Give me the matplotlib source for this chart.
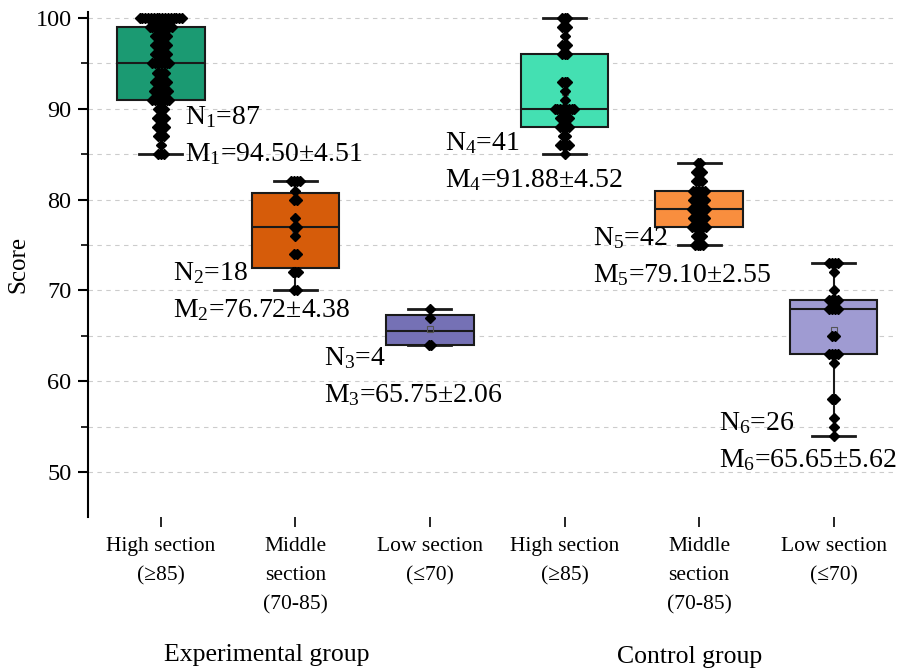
import numpy as np
import matplotlib.pyplot as plt
from matplotlib.ticker import MultipleLocator

plt.rcParams['font.family'] = ['Liberation Serif', 'DejaVu Serif']
plt.rcParams['mathtext.fontset'] = 'custom'
plt.rcParams['mathtext.rm'] = 'Liberation Serif'
plt.rcParams['mathtext.it'] = 'Liberation Serif:italic'

# scores (value, how many students) for each section
exp_high_scores = [100, 99, 98, 97, 96, 95, 94, 93, 92, 91, 90, 89, 88, 87, 86, 85]
exp_high_counts = [16, 9, 5, 5, 5, 7, 4, 5, 6, 7, 3, 4, 4, 3, 1, 3]
exp_mid_scores = [82, 81, 80, 78, 77, 76, 74, 72, 70]
exp_mid_counts = [4, 1, 2, 1, 2, 1, 2, 3, 2]
exp_low_scores = [68, 67, 64]
exp_low_counts = [1, 1, 2]
ctl_high_scores = [100, 99, 98, 97, 96, 93, 92, 91, 90, 89, 88, 87, 86, 85]
ctl_high_counts = [3, 3, 1, 3, 3, 3, 1, 1, 8, 4, 4, 2, 4, 1]
ctl_mid_scores = [84, 83, 82, 81, 80, 79, 78, 77, 76, 75]
ctl_mid_counts = [2, 3, 3, 5, 5, 6, 5, 6, 3, 4]
ctl_low_scores = [73, 72, 70, 69, 68, 65, 63, 62, 58, 56, 55, 54]
ctl_low_counts = [4, 1, 1, 4, 4, 2, 4, 1, 2, 1, 1, 1]

section_labels = ['High section\n(\u226585)', 'Middle\nsection\n(70-85)', 'Low section\n(\u226470)',
                  'High section\n(\u226585)', 'Middle\nsection\n(70-85)', 'Low section\n(\u226470)']
group_labels = ['Experimental group', 'Control group']

n_values = [87, 18, 4, 41, 42, 26]
mean_values = [94.50, 76.72, 65.75, 91.88, 79.10, 65.65]
sd_values = [4.51, 4.38, 2.06, 4.52, 2.55, 5.62]

box_colors = ['#1b9a72', '#d65c0a', '#7571b5', '#44e0b2', '#f98e3e', '#9f9bd2']

data = [np.repeat(s, c) for s, c in [(exp_high_scores, exp_high_counts),
                                     (exp_mid_scores, exp_mid_counts),
                                     (exp_low_scores, exp_low_counts),
                                     (ctl_high_scores, ctl_high_counts),
                                     (ctl_mid_scores, ctl_mid_counts),
                                     (ctl_low_scores, ctl_low_counts)]]
pos = np.arange(1, 7)


def swarm_offsets(vals, step):
    # spread equal scores sideways so the points don't sit on top of each other
    offs = np.zeros(len(vals))
    for v in np.unique(vals):
        idx = np.where(vals == v)[0]
        k = np.arange(len(idx))
        o = step * np.where(k % 2 == 0, k // 2, -(k // 2 + 1))
        offs[idx] = o - o.mean()
    return offs


fig = plt.figure(figsize=(9, 6.69), dpi=100)
ax = fig.add_axes([0.098, 0.227, 0.897, 0.755])

bp = ax.boxplot(data, positions=pos, widths=0.65, whis=(0, 100), patch_artist=True,
                showfliers=False, capwidths=0.32,
                boxprops=dict(edgecolor='#1a1a1a', linewidth=1.5),
                medianprops=dict(color='#1a1a1a', linewidth=1.5),
                whiskerprops=dict(color='#1a1a1a', linewidth=1.5),
                capprops=dict(color='#1a1a1a', linewidth=2),
                zorder=2)
for patch, c in zip(bp['boxes'], box_colors):
    patch.set_facecolor(c)

for p, vals in zip(pos, data):
    ax.plot(p + swarm_offsets(vals, 0.021), vals, 'D', color='black', ms=5.5, zorder=4)

# mean markers
ax.plot(pos, mean_values, 's', ms=5, mfc='none', mec='#555555', mew=0.8, zorder=3)

# N / M annotations
ann_x = [1.18, 1.09, 2.21, 3.11, 4.21, 5.15]
ann_y = [89.1, 71.9, 62.6, 86.2, 75.8, 55.4]
for i in range(6):
    ax.text(ann_x[i], ann_y[i], 'N$_{%d}$=%d' % (i + 1, n_values[i]),
            fontsize=20, va='center', ha='left', zorder=5)
    ax.text(ann_x[i], ann_y[i] - 4.1, 'M$_{%d}$=%.2f\u00b1%.2f' % (i + 1, mean_values[i], sd_values[i]),
            fontsize=20, va='center', ha='left', zorder=5)

ax.set_xlim(0.46, 6.46)
ax.set_ylim(45.04, 100.66)
ax.yaxis.set_major_locator(MultipleLocator(10))
ax.yaxis.set_minor_locator(MultipleLocator(5))
ax.set_yticks(np.arange(50, 101, 10))
ax.grid(axis='y', which='both', linestyle=(0, (4, 4)), color='#cccccc', linewidth=0.8)
ax.set_axisbelow(True)

ax.set_xticks(pos)
ax.set_xticklabels(section_labels, fontsize=15.5)
for lab in ax.get_xticklabels():
    lab.set_linespacing(1.74)
ax.tick_params(axis='x', length=7, width=1.2, pad=7)
ax.tick_params(axis='y', which='major', length=7, width=1.5, labelsize=17.5, pad=5)
ax.tick_params(axis='y', which='minor', length=5, width=1.2)

for s in ['top', 'right', 'bottom']:
    ax.spines[s].set_visible(False)
ax.spines['left'].set_linewidth(1.5)

ax.set_ylabel('Score', fontsize=18, labelpad=4)

ax.text(1.79, -0.272, group_labels[0], transform=ax.get_xaxis_transform(),
        fontsize=18.5, ha='center', va='center')
ax.text(4.93, -0.276, group_labels[1], transform=ax.get_xaxis_transform(),
        fontsize=18.5, ha='center', va='center')

fig.savefig('out.png', dpi=100)
